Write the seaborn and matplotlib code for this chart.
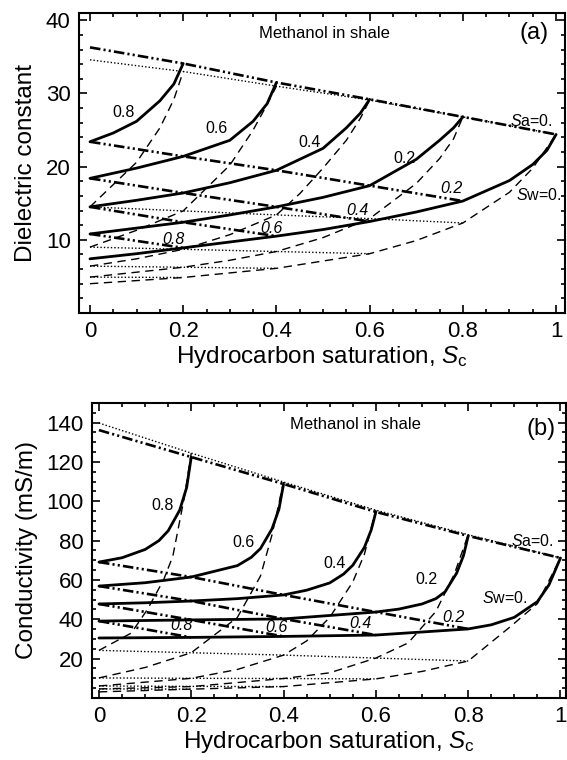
import matplotlib
matplotlib.use('Agg')
import matplotlib.pyplot as plt
from matplotlib.ticker import MultipleLocator
import seaborn as sns

# grid of hydrocarbon saturation values used by the constant-Sa lines
sc_grid = [0, 0.2, 0.4, 0.6, 0.8, 1.0]

# ---------------- panel (a): dielectric constant ----------------
# model 1, constant Sa (dash-dot)
a_sa0 = [36.3, 34.1, 31.5, 29.2, 26.8, 24.4]
a_sa2 = [23.4, 21.4, 19.5, 17.4, 15.3]
a_sa4 = [18.4, 16.4, 14.5, 12.5]
a_sa6 = [14.5, 12.4, 10.5]
a_sa8 = [10.8, 8.9]
# model 1, constant Sw (solid)
a_sw8_x = [0, 0.05, 0.1, 0.15, 0.18, 0.2]
a_sw8_y = [23.4, 24.6, 26.2, 29.0, 31.3, 34.1]
a_sw6_x = [0, 0.1, 0.2, 0.3, 0.35, 0.38, 0.4]
a_sw6_y = [18.4, 19.8, 21.4, 23.6, 26.2, 28.6, 31.5]
a_sw4_x = [0, 0.1, 0.2, 0.3, 0.4, 0.5, 0.55, 0.58, 0.6]
a_sw4_y = [14.5, 15.4, 16.4, 17.8, 19.5, 22.5, 25.3, 27.3, 29.2]
a_sw2_x = [0, 0.1, 0.2, 0.3, 0.4, 0.5, 0.6, 0.7, 0.75, 0.78, 0.8]
a_sw2_y = [10.8, 11.6, 12.4, 13.4, 14.5, 15.8, 17.4, 21.0, 23.6, 25.3, 26.8]
a_sw0_x = [0, 0.1, 0.2, 0.3, 0.4, 0.5, 0.6, 0.7, 0.8, 0.9, 0.95, 0.98, 1.0]
a_sw0_y = [7.4, 8.1, 8.9, 9.7, 10.5, 11.4, 12.5, 13.8, 15.3, 18.1, 20.3, 22.2, 24.4]
# model 2, constant Sa (dotted)
a2_sa0 = [34.6, 33.0, 31.0, 29.1, 26.8, 24.4]
a2_sa2 = [14.5, 13.95, 13.4, 12.9, 12.3]
a2_sa4 = [9.0, 8.7, 8.4, 8.1]
a2_sa6 = [6.4, 6.25, 6.1]
a2_sa8 = [4.9, 4.85]
# model 2, constant Sw (dashed)
a2_sw8_x = [0, 0.1, 0.15, 0.18, 0.2]
a2_sw8_y = [14.5, 20.6, 25.3, 29.2, 33.0]
a2_sw6_x = [0, 0.1, 0.2, 0.3, 0.35, 0.38, 0.4]
a2_sw6_y = [9.0, 11.3, 13.95, 20.2, 25.0, 28.5, 31.0]
a2_sw4_x = [0, 0.1, 0.2, 0.3, 0.4, 0.45, 0.5, 0.55, 0.58, 0.6]
a2_sw4_y = [6.4, 7.4, 8.7, 10.7, 13.4, 16.3, 19.8, 23.6, 26.6, 29.1]
a2_sw2_x = [0, 0.2, 0.3, 0.4, 0.5, 0.6, 0.7, 0.75, 0.78, 0.8]
a2_sw2_y = [4.9, 6.25, 7.2, 8.4, 10.3, 12.9, 17.7, 21.1, 23.8, 26.8]
a2_sw0_x = [0, 0.2, 0.4, 0.6, 0.7, 0.8, 0.9, 0.95, 1.0]
a2_sw0_y = [4.0, 4.85, 6.1, 8.1, 9.9, 12.3, 16.5, 19.8, 24.4]

# ---------------- panel (b): conductivity ----------------
b_sa0 = [136.2, 122.5, 108.8, 94.6, 82.4, 71.2]
b_sa2 = [69.1, 61.5, 52.4, 43.7, 35.1]
b_sa4 = [56.9, 49.3, 40.2, 32.0]
b_sa6 = [47.8, 39.7, 31.3]
b_sa8 = [39.1, 30.8]
b_sw8_x = [0, 0.05, 0.1, 0.13, 0.15, 0.175, 0.19, 0.2]
b_sw8_y = [69.1, 71.3, 75.5, 80.0, 85.0, 95.5, 107.0, 122.5]
b_sw6_x = [0, 0.1, 0.2, 0.3, 0.33, 0.35, 0.375, 0.39, 0.4]
b_sw6_y = [56.9, 58.6, 61.5, 67.3, 71.5, 76.0, 86.0, 96.0, 108.8]
b_sw4_x = [0, 0.1, 0.2, 0.3, 0.4, 0.45, 0.5, 0.53, 0.55, 0.575, 0.59, 0.6]
b_sw4_y = [47.8, 48.4, 49.3, 50.5, 52.4, 54.8, 58.5, 63.0, 67.5, 76.5, 85.5, 94.6]
b_sw2_x = [0, 0.2, 0.4, 0.6, 0.65, 0.7, 0.73, 0.75, 0.775, 0.79, 0.8]
b_sw2_y = [39.1, 39.7, 40.2, 43.7, 45.2, 47.8, 50.5, 54.0, 63.5, 72.5, 82.4]
b_sw0_x = [0, 0.2, 0.4, 0.6, 0.8, 0.85, 0.9, 0.95, 0.975, 1.0]
b_sw0_y = [30.5, 30.8, 31.3, 32.0, 35.1, 37.2, 41.0, 49.0, 57.5, 71.2]
b2_sa0 = [139.8, 124.5, 109.8, 95.5, 83.0, 71.2]
b2_sa2 = [24.2, 23.0, 21.8, 20.3, 18.8]
b2_sa4 = [10.2, 10.0, 9.9, 9.7]
b2_sa6 = [6.1, 5.9, 5.8]
b2_sa8 = [4.6, 4.5]
b2_sw8_x = [0, 0.07, 0.105, 0.14, 0.16, 0.185, 0.2]
b2_sw8_y = [24.2, 33.0, 45.0, 60.0, 72.0, 102.0, 124.5]
b2_sw6_x = [0, 0.1, 0.2, 0.3, 0.35, 0.375, 0.4]
b2_sw6_y = [10.2, 15.5, 23.0, 41.0, 62.0, 83.0, 109.8]
b2_sw4_x = [0, 0.2, 0.3, 0.4, 0.45, 0.5, 0.55, 0.575, 0.6]
b2_sw4_y = [6.1, 10.0, 14.5, 21.8, 29.0, 41.0, 59.0, 73.0, 95.5]
b2_sw2_x = [0, 0.2, 0.4, 0.5, 0.6, 0.67, 0.73, 0.77, 0.8]
b2_sw2_y = [4.6, 5.8, 9.9, 12.8, 20.3, 28.0, 44.0, 63.0, 83.0]
b2_sw0_x = [0, 0.2, 0.4, 0.6, 0.7, 0.8, 0.89, 0.95, 1.0]
b2_sw0_y = [3.1, 4.5, 5.8, 9.7, 13.5, 18.8, 36.0, 48.0, 71.2]

sns.set_style('ticks', {'xtick.direction': 'in', 'ytick.direction': 'in'})
plt.rcParams['font.family'] = ['Liberation Sans', 'DejaVu Sans']
plt.rcParams['mathtext.fontset'] = 'custom'
plt.rcParams['mathtext.rm'] = 'Liberation Sans'
plt.rcParams['mathtext.it'] = 'Liberation Sans:italic'
plt.rcParams['text.color'] = 'k'
plt.rcParams['axes.labelcolor'] = 'k'

DASHDOT = (0, (4, 1.2, 0.8, 1.2, 0.8, 1.2))
DASHED = (0, (6, 4))
DOTTED = (0, (1, 1.5))


def line(ax, x, y, kind):
    if kind == 'solid':
        sns.lineplot(x=x, y=y, ax=ax, color='k', lw=2.0, sort=False, estimator=None)
    elif kind == 'dashdot':
        sns.lineplot(x=x, y=y, ax=ax, color='k', lw=1.9, linestyle=DASHDOT, sort=False, estimator=None)
    elif kind == 'dashed':
        sns.lineplot(x=x, y=y, ax=ax, color='k', lw=1.0, linestyle=DASHED, sort=False, estimator=None)
    else:
        sns.lineplot(x=x, y=y, ax=ax, color='k', lw=1.0, linestyle=DOTTED, sort=False, estimator=None)


def style_axes(ax, xlim, ylim, yticks, ymin, ylabel):
    ax.set_xlim(*xlim)
    ax.set_ylim(*ylim)
    ax.set_xticks(sc_grid)
    ax.set_xticklabels(['0', '0.2', '0.4', '0.6', '0.8', '1'])
    ax.set_yticks(yticks)
    ax.set_yticklabels([str(t) for t in yticks])
    ax.xaxis.set_minor_locator(MultipleLocator(0.05))
    ax.yaxis.set_minor_locator(MultipleLocator(ymin))
    ax.tick_params(which='both', direction='in', top=True, right=True, width=1.2,
                   colors='k', labelcolor='k')
    ax.tick_params(which='major', length=6, labelsize=16, pad=6)
    ax.tick_params(which='minor', length=3)
    for s in ax.spines.values():
        s.set_linewidth(1.5)
        s.set_color('k')
    ax.set_xlabel('Hydrocarbon saturation, $S_{\\mathrm{c}}$', fontsize=17.5, labelpad=1)
    ax.set_ylabel(ylabel, fontsize=17.5, labelpad=6)


fig = plt.figure(figsize=(5.67, 7.6), dpi=100)
ax1 = fig.add_axes([0.1393, 0.5882, 0.8571, 0.3947])
ax2 = fig.add_axes([0.1623, 0.0816, 0.8360, 0.3882])

panels = [
    (ax1, [a_sa0, a_sa2, a_sa4, a_sa6, a_sa8],
     [(a_sw8_x, a_sw8_y), (a_sw6_x, a_sw6_y), (a_sw4_x, a_sw4_y), (a_sw2_x, a_sw2_y), (a_sw0_x, a_sw0_y)],
     [a2_sa0, a2_sa2, a2_sa4, a2_sa6, a2_sa8],
     [(a2_sw8_x, a2_sw8_y), (a2_sw6_x, a2_sw6_y), (a2_sw4_x, a2_sw4_y), (a2_sw2_x, a2_sw2_y), (a2_sw0_x, a2_sw0_y)]),
    (ax2, [b_sa0, b_sa2, b_sa4, b_sa6, b_sa8],
     [(b_sw8_x, b_sw8_y), (b_sw6_x, b_sw6_y), (b_sw4_x, b_sw4_y), (b_sw2_x, b_sw2_y), (b_sw0_x, b_sw0_y)],
     [b2_sa0, b2_sa2, b2_sa4, b2_sa6, b2_sa8],
     [(b2_sw8_x, b2_sw8_y), (b2_sw6_x, b2_sw6_y), (b2_sw4_x, b2_sw4_y), (b2_sw2_x, b2_sw2_y), (b2_sw0_x, b2_sw0_y)]),
]

for ax, sa1, sw1, sa2, sw2 in panels:
    for vals in sa2:
        line(ax, sc_grid[:len(vals)], vals, 'dotted')
    for x, y in sw2:
        line(ax, x, y, 'dashed')
    for vals in sa1:
        line(ax, sc_grid[:len(vals)], vals, 'dashdot')
    for x, y in sw1:
        line(ax, x, y, 'solid')

style_axes(ax1, (-0.0236, 1.019), (0, 41), [10, 20, 30, 40], 2, 'Dielectric constant')
style_axes(ax2, (-0.015, 1.012), (0, 150), [20, 40, 60, 80, 100, 120, 140], 5, 'Conductivity (mS/m)')

# annotations panel (a)
ax1.text(0.503, 38.2, 'Methanol in shale', fontsize=12, ha='center', va='center')
ax1.text(0.953, 38.3, '(a)', fontsize=17, ha='center', va='center')
for x, y, s in [(0.071, 27.4, '0.8'), (0.272, 25.2, '0.6'), (0.471, 23.3, '0.4'), (0.674, 21.1, '0.2')]:
    ax1.text(x, y, s, fontsize=11.5, ha='center', va='center')
for x, y, s in [(0.178, 10.1, '0.8'), (0.39, 11.6, '0.6'), (0.574, 14.0, '0.4'), (0.775, 17.0, '0.2')]:
    ax1.text(x, y, s, fontsize=11.5, ha='center', va='center', style='italic')
ax1.text(0.946, 26.3, '$S$a=0.', fontsize=11.5, ha='center', va='center')
ax1.text(0.963, 16.1, '$S$w=0.', fontsize=11.5, ha='center', va='center')

# annotations panel (b)
ax2.text(0.556, 138.8, 'Methanol in shale', fontsize=12, ha='center', va='center')
ax2.text(0.957, 137, '(b)', fontsize=17, ha='center', va='center')
for x, y, s in [(0.137, 98, '0.8'), (0.313, 79, '0.6'), (0.51, 68.6, '0.4'), (0.71, 60, '0.2')]:
    ax2.text(x, y, s, fontsize=11.5, ha='center', va='center')
for x, y, s in [(0.178, 37, '0.8'), (0.384, 36, '0.6'), (0.567, 38, '0.4'), (0.768, 41, '0.2')]:
    ax2.text(x, y, s, fontsize=11.5, ha='center', va='center', style='italic')
ax2.text(0.94, 80, '$S$a=0.', fontsize=11.5, ha='center', va='center')
ax2.text(0.88, 50.8, '$S$w=0.', fontsize=11.5, ha='center', va='center')

fig.savefig('out.png', dpi=100)
